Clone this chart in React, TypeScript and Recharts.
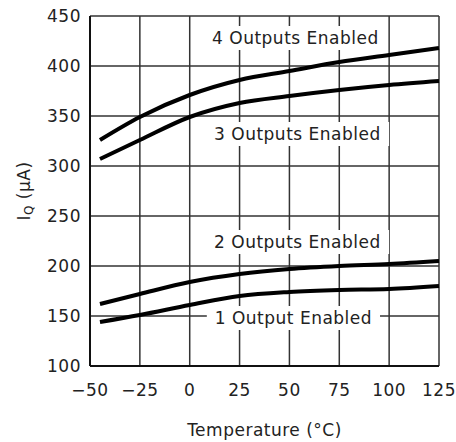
import React from "react"
import {
  LineChart,
  Line,
  XAxis,
  YAxis,
  CartesianGrid,
  ReferenceDot,
} from "recharts"

const temps = [-45, -25, 0, 25, 50, 75, 100, 125]
const iq1 = [144, 151, 161, 170, 174, 176, 177, 180]
const iq2 = [162, 172, 184, 192, 197, 200, 202, 205]
const iq3 = [307, 326, 349, 363, 370, 376, 381, 385]
const iq4 = [326, 349, 371, 386, 395, 404, 411, 418]

const xTicks = [-50, -25, 0, 25, 50, 75, 100, 125]
const yTicks = [100, 150, 200, 250, 300, 350, 400, 450]

const labelTexts = ["4 Outputs Enabled", "3 Outputs Enabled", "2 Outputs Enabled", "1 Output Enabled"]
const labelX = [53, 54, 54, 52]
const labelY = [428, 332, 224, 148]

const data = temps.map((t, i) => ({ t, a: iq1[i], b: iq2[i], c: iq3[i], d: iq4[i] }))

const FONT = "'DejaVu Sans', sans-serif"

const boxLabel = (text: string) => (props: any) => {
  const { cx, cy } = props
  const w = text.length * 10.2 + 10
  return (
    <g>
      <rect x={cx - w / 2} y={cy - 12} width={w} height={24} fill="#fff" />
      <text
        x={cx}
        y={cy}
        textAnchor="middle"
        dominantBaseline="central"
        fontFamily={FONT}
        fontSize={17}
        letterSpacing={0.5}
        fill="#222"
      >
        {text}
      </text>
    </g>
  )
}

const YLabel = () => (
  <text
    transform="translate(24,191) rotate(-90)"
    textAnchor="middle"
    dominantBaseline="central"
    fontFamily={FONT}
    fontSize={17}
    letterSpacing={0.5}
    fill="#222"
  >
    I
    <tspan fontSize={12} dy={5}>Q</tspan>
    <tspan dy={-5}> (µA)</tspan>
  </text>
)

const tickStyle = { fontFamily: FONT, fontSize: 17, fill: "#222", letterSpacing: 0.5 }

export default function App() {
  return (
    <div>
      <style>{`body { margin: 0; }`}</style>
      <LineChart
        width={456}
        height={442}
        data={data}
        margin={{ top: 16, right: 17, left: 0, bottom: 26 }}
      >
        <CartesianGrid stroke="#333" strokeWidth={1.5} />
        <XAxis
          dataKey="t"
          type="number"
          domain={[-50, 125]}
          ticks={xTicks}
          tickLine={false}
          tickSize={0}
          tickMargin={18}
          height={50}
          axisLine={{ stroke: "#111", strokeWidth: 2 }}
          tick={tickStyle}
          tickFormatter={(v: number) => String(v).replace("-", "−")}
          label={{
            value: "Temperature (°C)",
            position: "insideBottom",
            offset: -20,
            style: { fontFamily: FONT, fontSize: 17, fill: "#222", letterSpacing: 0.5 },
          }}
        />
        <YAxis
          type="number"
          domain={[100, 450]}
          ticks={yTicks}
          width={90}
          tickLine={false}
          tickSize={0}
          tickMargin={9}
          axisLine={{ stroke: "#111", strokeWidth: 2 }}
          tick={tickStyle}
          label={<YLabel />}
        />
        <Line dataKey="a" type="monotone" stroke="#000" strokeWidth={4} dot={false} isAnimationActive={false} />
        <Line dataKey="b" type="monotone" stroke="#000" strokeWidth={4} dot={false} isAnimationActive={false} />
        <Line dataKey="c" type="monotone" stroke="#000" strokeWidth={4} dot={false} isAnimationActive={false} />
        <Line dataKey="d" type="monotone" stroke="#000" strokeWidth={4} dot={false} isAnimationActive={false} />
        {labelTexts.map((s, i) => (
          <ReferenceDot key={s} x={labelX[i]} y={labelY[i]} r={0} shape={boxLabel(s)} />
        ))}
      </LineChart>
    </div>
  )
}
